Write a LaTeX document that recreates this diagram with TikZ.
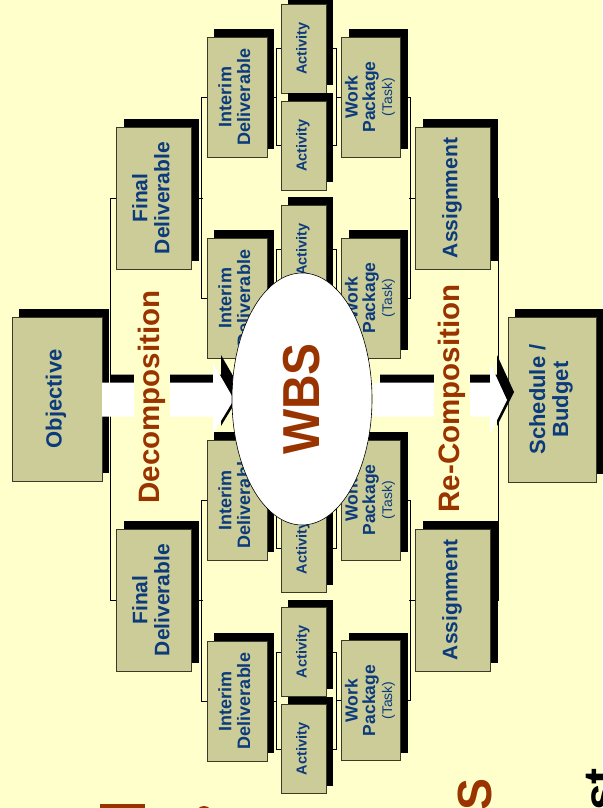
\documentclass[tikz,border=0pt]{standalone}
\usepackage{fontspec}
\setmainfont{Liberation Sans}
\usetikzlibrary{shapes.geometric,shadows}
\definecolor{bgc}{HTML}{FFFFCC}
\definecolor{boxc}{HTML}{CCCC99}
\definecolor{navy}{HTML}{0B3B7A}
\definecolor{rust}{HTML}{993300}
\definecolor{edgec}{HTML}{3A3A2A}
\pgfdeclarelayer{back}
\pgfdeclarelayer{lines}
\pgfsetlayers{back,lines,main}
\newcommand\rtext[3]{\rotatebox{90}{\fontsize{#1}{#2}\selectfont\begin{tabular}{@{}c@{}}#3\end{tabular}}}
\tikzset{
  box/.style={rectangle, draw=edgec, line width=0.8pt, fill=boxc, inner sep=0pt, text=navy, font=\bfseries,
    drop shadow={shadow xshift=7pt, shadow yshift=8pt, fill=black, opacity=1}},
  conn/.style={draw=black, line width=0.7pt},
  arrowbody/.style={fill=white},
  arrowshade/.style={fill=black},
  lab/.style={rotate=90, fill=bgc, text=rust, font=\bfseries\fontsize{29.5}{30}\selectfont, inner xsep=2pt, inner ysep=4pt},
  frag/.style={rotate=90, inner sep=0pt, anchor=north east},
}
\begin{document}
\begin{tikzpicture}[x=1pt,y=-1pt]
\useasboundingbox (0,0) rectangle (602,808);
\begin{pgfonlayer}{back}
\fill[bgc] (0,0) rectangle (602,808);
\end{pgfonlayer}

% boxes
\node[box, minimum width=90pt, minimum height=164pt] (obj) at (57,399) {\rtext{22}{23}{Objective}};
\node[box, minimum width=75pt, minimum height=142pt] (f1) at (154,198) {\rtext{21}{22}{Final\\Deliverable}};
\node[box, minimum width=75pt, minimum height=142pt] (f2) at (154,600) {\rtext{21}{22}{Final\\Deliverable}};
\foreach \n/\y in {i1/97, i2/298, i3/500, i4/701}
  \node[box, minimum width=60pt, minimum height=120pt] (\n) at (237,\y) {\rtext{18}{18.5}{Interim\\Deliverable}};
\foreach \n/\y in {a1/48.5, a2/145.5, a3/249.5, a4/346.5, a5/451, a6/548, a7/652, a8/749}
  \node[box, minimum width=45pt, minimum height=89pt] (\n) at (303.5,\y) {\rtext{14.5}{15}{Activity}};
\foreach \n/\y in {w1/97, w2/298, w3/500, w4/700.5}
  \node[box, minimum width=59pt, minimum height=120pt] (\n) at (371,\y) {\rtext{17.5}{16}{Work\\Package\\[1pt]{\mdseries\fontsize{14}{14}\selectfont(Task)}}};
\node[box, minimum width=75pt, minimum height=142pt] (s1) at (453,198) {\rtext{21}{22}{Assignment}};
\node[box, minimum width=75pt, minimum height=142pt] (s2) at (453,600) {\rtext{21}{22}{Assignment}};
\node[box, minimum width=88pt, minimum height=165pt] (sch) at (552,399.5) {\rtext{22}{23}{Schedule /\\Budget}};

% connectors
\begin{pgfonlayer}{lines}
\draw[conn] (obj.east) -- ++(9,0);
\draw[conn] (f1.west) -- ++(-6,0) |- (f2.west);
\draw[conn] (f1.east) -- ++(11,0);
\draw[conn] (f2.east) -- ++(11,0);
\draw[conn] (i1.west) -- ++(-5,0) |- (i2.west);
\draw[conn] (i3.west) -- ++(-5,0) |- (i4.west);
\foreach \i/\a/\b/\w in {i1/a1/a2/w1, i2/a3/a4/w2, i3/a5/a6/w3, i4/a7/a8/w4}{
  \draw[conn] (\i.east) -- ++(10,0);
  \draw[conn] (\a.west) -- ++(-4,0) |- (\b.west);
  \draw[conn] (\a.east) -- ++(10,0) |- (\b.east);
  \draw[conn] (\w.west) -- ++(-5,0);
}
\draw[conn] (w1.east) -- ++(9.5,0) |- (w2.east);
\draw[conn] (w3.east) -- ++(9.5,0) |- (w4.east);
\draw[conn] (s1.west) -- ++(-6,0);
\draw[conn] (s2.west) -- ++(-6,0);
\draw[conn] (s1.east) -- ++(7,0) |- (s2.east);
\draw[conn] (sch.west) -- ++(-11,0);
\end{pgfonlayer}

% big arrows
\begin{scope}[shift={(8,-8)}]
\fill[arrowshade] (102,382.5) -- (213,382.5) -- (213,363) -- (234,399.5) -- (213,434) -- (213,416.5) -- (102,416.5) -- cycle;
\end{scope}
\fill[arrowbody] (102,382.5) -- (213,382.5) -- (213,363) -- (234,399.5) -- (213,434) -- (213,416.5) -- (102,416.5) -- cycle;
\begin{scope}[shift={(7,-8)}]
\fill[arrowshade] (373,382.5) -- (490,382.5) -- (490,363) -- (507,400) -- (490,434) -- (490,416.5) -- (373,416.5) -- cycle;
\end{scope}
\fill[arrowbody] (373,382.5) -- (490,382.5) -- (490,363) -- (507,400) -- (490,434) -- (490,416.5) -- (373,416.5) -- cycle;

% WBS ellipse
\node[ellipse, draw=black, line width=0.6pt, fill=white, minimum width=140pt, minimum height=252pt, inner sep=0pt, text=rust, font=\bfseries\fontsize{52}{52}\selectfont] (wbs) at (302,399) {\rotatebox{90}{\scalebox{0.92}[1]{WBS}}};

% labels
\node[lab] (dec) at (152,397) {Decomposition};
\node[lab] (rec) at (452,398.5) {Re-Composition};

% clipped title fragments at the bottom edge
\fill[rust] (100,804) rectangle (145,815);
\fill[rust] (204,814) circle (8);
\node[frag, text=rust, font=\bfseries\fontsize{48}{48}\selectfont] (fs) at (458,778) {S};
\node[frag, text=black, font=\bfseries\fontsize{48}{48}\selectfont] (ft) at (586,768) {st};
\end{tikzpicture}
\end{document}
